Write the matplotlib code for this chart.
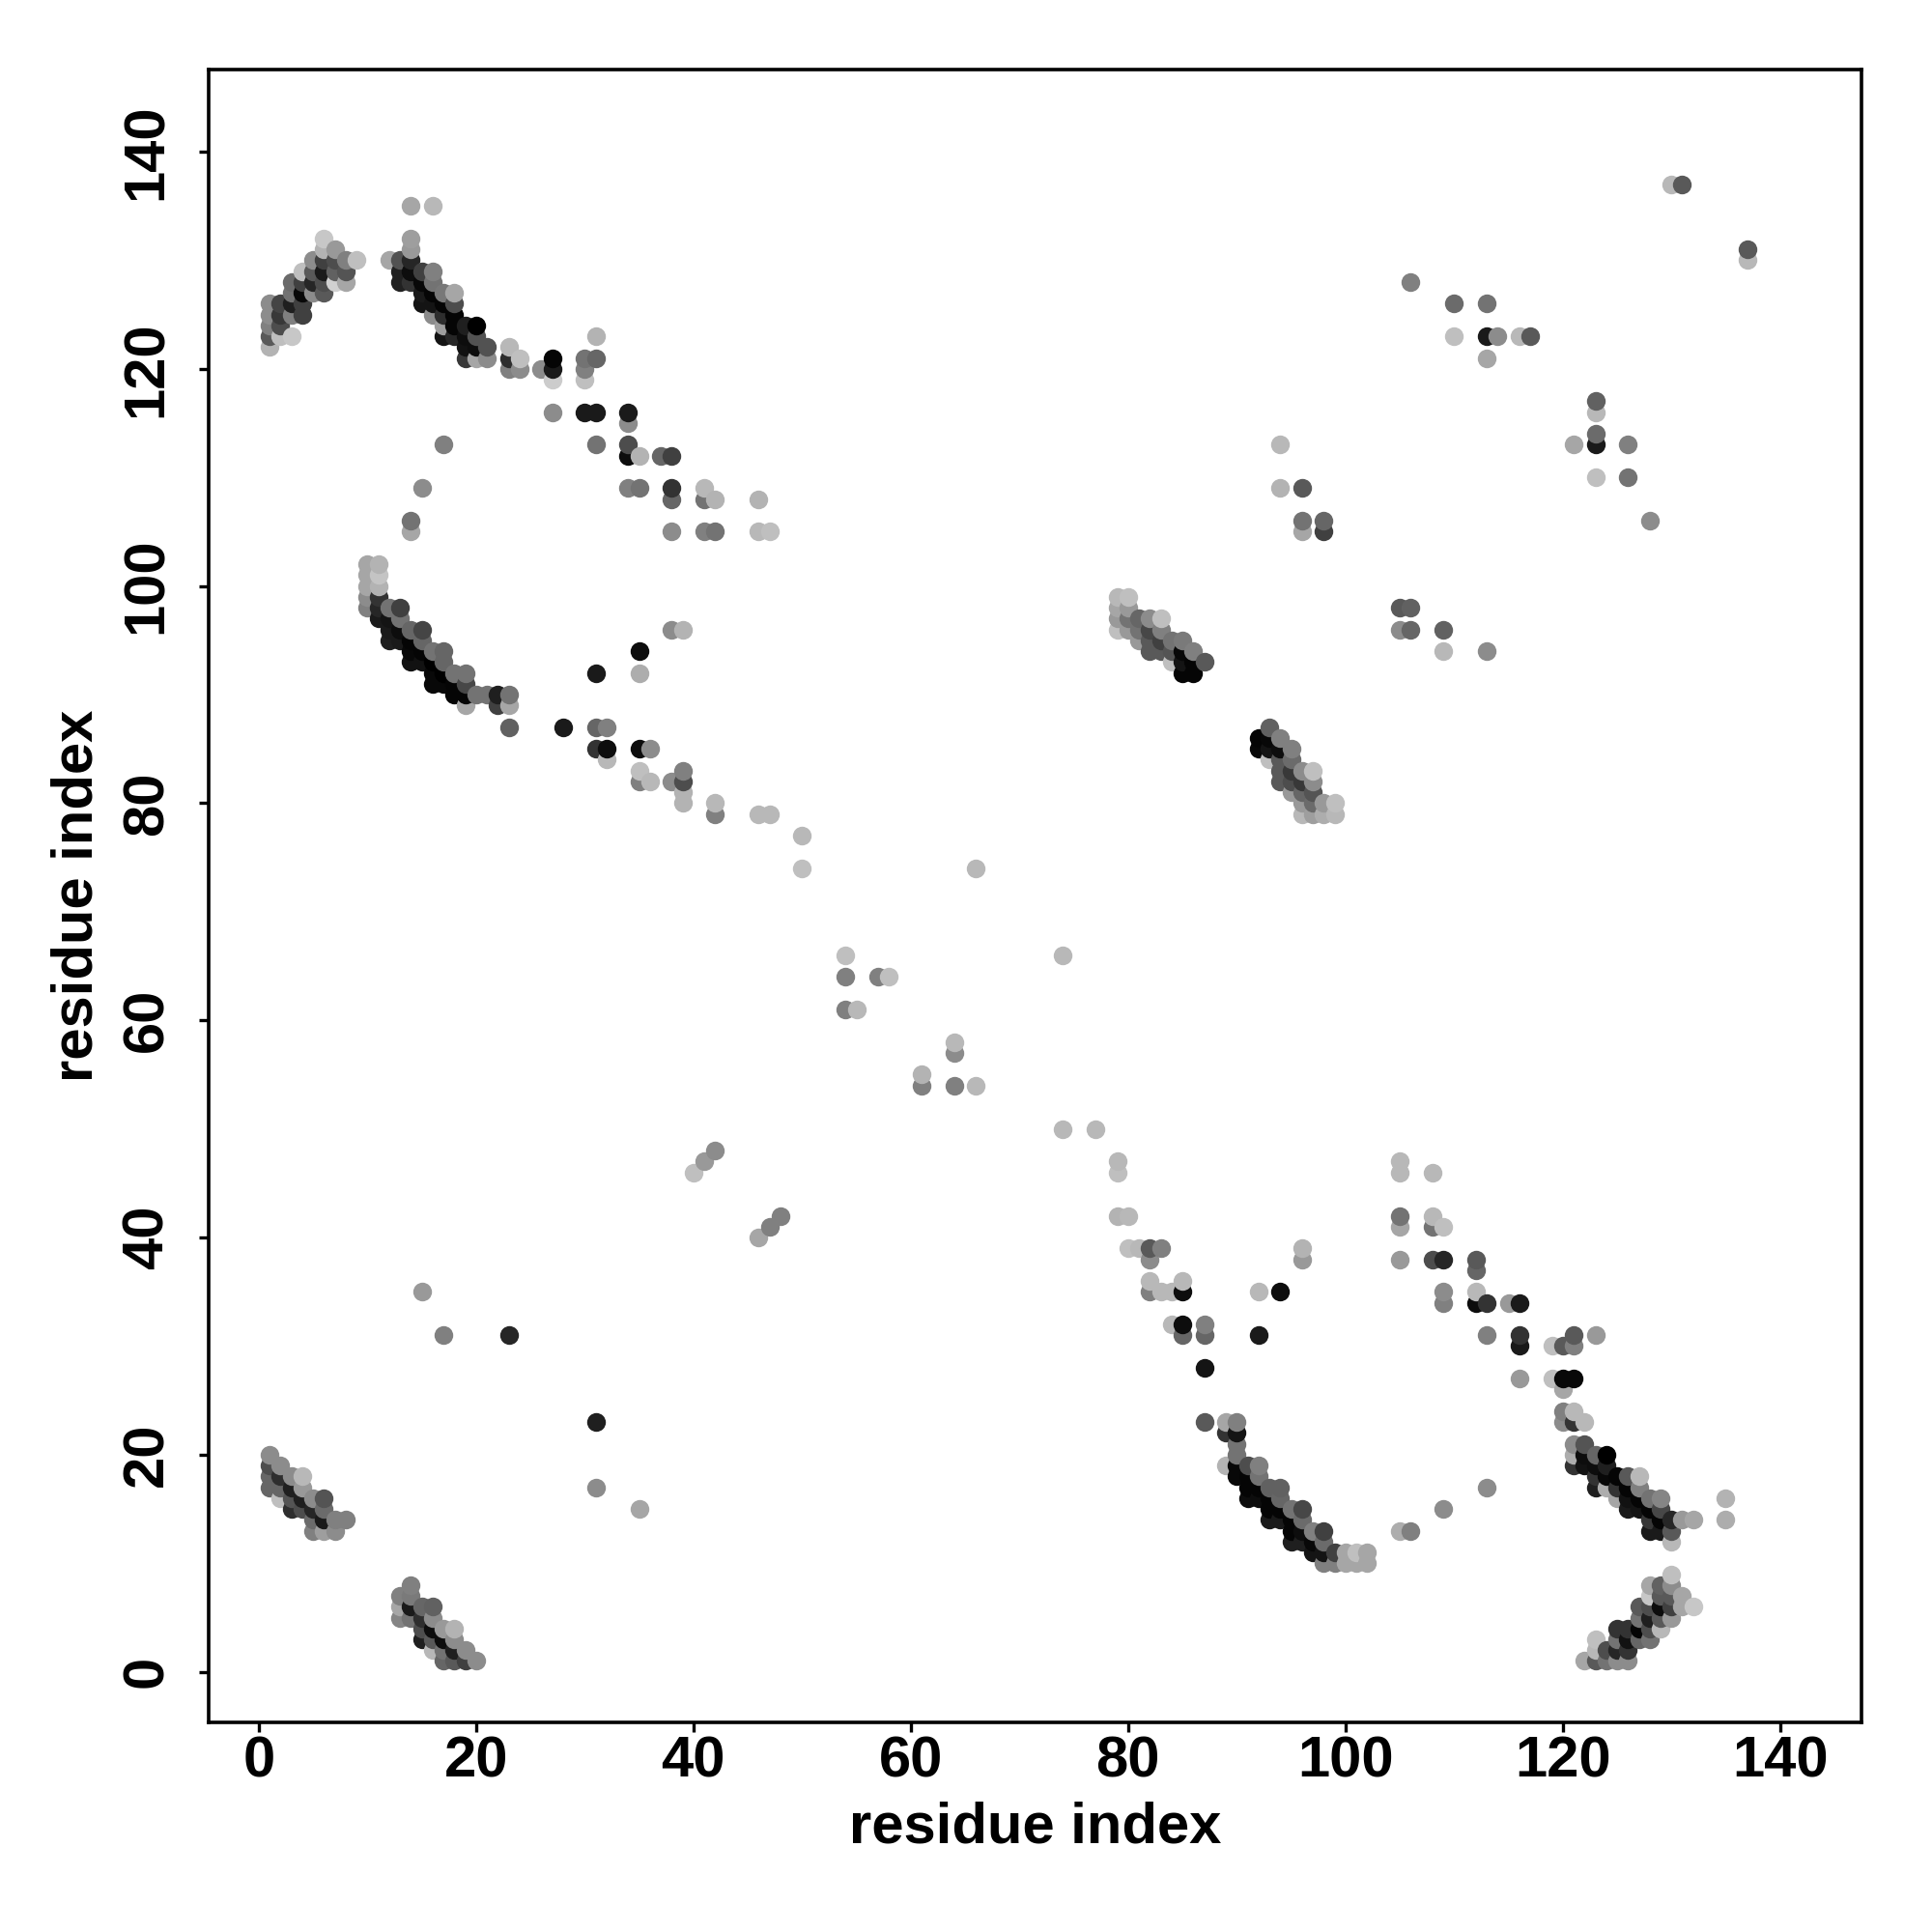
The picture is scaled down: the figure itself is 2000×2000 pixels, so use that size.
import numpy as np
import matplotlib
matplotlib.use("Agg")
import matplotlib.pyplot as plt

plt.rcParams['font.family'] = ['Liberation Sans', 'DejaVu Sans']
plt.rcParams['font.weight'] = 'bold'

# one line per column: residue i, then residue j and grey level of each contact
columns_upper_left = [
    (1, [122, 123, 124, 125, 126], [.7, .35, .5, .55, .55]),
    (2, [123, 124, 125, 126], [.75, .3, .22, .27]),
    (3, [123, 125, 126, 127, 128], [.78, .5, .12, .45, .42]),
    (4, [125, 126, 127, 128, 129], [.25, .25, .03, .25, .75]),
    (5, [127, 128, 129, 130], [.55, .15, .35, .55]),
    (6, [127, 128, 129, 130, 131, 132], [.35, .3, .1, .25, .7, .78]),
    (7, [128, 129, 130, 131], [.82, .38, .3, .6]),
    (8, [128, 129, 130], [.65, .33, .5]),
    (9, [130], [.75]),
    (12, [130], [.65]),
    (13, [128, 129, 130], [.13, .13, .32]),
    (14, [105, 106, 128, 129, 130, 131, 132, 135], [.65, .45, .2, .05, .15, .6, .62, .65]),
    (15, [109, 126, 127, 128, 129], [.55, .08, .1, .03, .25]),
    (16, [125, 126, 127, 128, 129, 135], [.55, .08, .02, .45, .5, .72]),
    (17, [113, 123, 124, 125, 126, 127], [.5, .08, .62, .18, .02, .47]),
    (18, [123, 124, 125, 126, 127], [.15, .02, .02, .3, .65]),
    (19, [121, 122, 123, 124], [.22, .07, .05, .12]),
    (20, [121, 122, 123, 124], [.65, .05, .32, .0]),
    (21, [121, 122], [.55, .32]),
    (23, [120, 121, 122], [.5, .18, .72]),
    (24, [120, 121], [.55, .75]),
    (26, [120], [.55]),
    (27, [116, 119, 120, 121], [.55, .8, .1, .02]),
    (30, [116, 119, 120, 121], [.1, .75, .5, .45]),
    (31, [113, 116, 121, 123], [.45, .1, .4, .7]),
    (34, [109, 112, 113, 115, 116], [.5, .05, .3, .55, .1]),
    (35, [109, 112], [.45, .7]),
    (37, [112], [.4]),
    (38, [105, 108, 109, 112], [.55, .4, .2, .25]),
    (41, [105, 108, 109], [.5, .45, .72]),
    (42, [105, 108], [.45, .7]),
    (46, [105, 108], [.72, .7]),
    (47, [105], [.75]),
]

columns_mid_left = [
    (10, [98, 99, 100, 101, 102], [.5, .55, .65, .65, .65]),
    (11, [97, 98, 99, 100, 101, 102], [.1, .15, .2, .7, .77, .7]),
    (12, [95, 96, 97, 98], [.12, .1, .08, .45]),
    (13, [95, 96, 97, 98], [.1, .05, .45, .25]),
    (14, [93, 94, 95, 96], [.07, .03, .02, .4]),
    (15, [93, 94, 95, 96], [.07, .02, .4, .27]),
    (16, [91, 92, 93, 94], [.03, .03, .0, .45]),
    (17, [91, 92, 93, 94], [.03, .0, .4, .4]),
    (18, [90, 91, 92], [.02, .02, .45]),
    (19, [89, 90, 91, 92], [.65, .02, .28, .45]),
    (20, [90], [.45]),
    (21, [90], [.45]),
    (22, [89, 90], [.25, .12]),
    (23, [87, 89, 90], [.38, .65, .45]),
    (28, [87], [.1]),
    (31, [85, 87, 92], [.2, .4, .1]),
    (32, [84, 85, 87], [.72, .05, .5]),
    (35, [82, 83, 85, 92, 94], [.5, .75, .05, .68, .05]),
    (36, [82, 85], [.72, .55]),
    (38, [82, 96], [.55, .55]),
    (39, [80, 81, 82, 83, 96], [.7, .7, .3, .5, .7]),
    (42, [79, 80], [.5, .72]),
    (46, [79], [.72]),
    (47, [79], [.72]),
    (50, [74, 77], [.75, .72]),
]

columns_centre = [
    (40, [46], [.75]),
    (41, [47], [.6]),
    (42, [48], [.55]),
    (46, [40], [.65]),
    (47, [41], [.5]),
    (48, [42], [.5]),
    (54, [61, 64, 66], [.5, .5, .75]),
    (55, [61], [.72]),
    (57, [64], [.5]),
    (58, [64], [.75]),
    (61, [54, 55], [.5, .7]),
    (64, [54, 57, 58], [.5, .55, .72]),
    (66, [54, 74], [.72, .72]),
    (74, [50, 66], [.72, .72]),
    (77, [50], [.72]),
]

columns_upper_right = [
    (79, [96, 97, 98, 99], [.75, .6, .65, .72]),
    (80, [96, 97, 98, 99], [.6, .45, .6, .75]),
    (81, [95, 96, 97], [.6, .45, .4]),
    (82, [94, 95, 96, 97], [.35, .35, .28, .55]),
    (83, [94, 95, 96, 97], [.35, .25, .5, .75]),
    (84, [93, 94, 95], [.75, .33, .45]),
    (85, [92, 93, 94, 95], [.02, .08, .03, .48]),
    (86, [92, 93, 94], [.02, .02, .5]),
    (87, [93], [.35]),
    (92, [85, 86], [.03, .02]),
    (93, [84, 85, 86, 87], [.75, .08, .03, .38]),
    (94, [82, 83, 84, 85, 86, 109, 113], [.35, .35, .35, .05, .5, .7, .72]),
    (95, [81, 82, 83, 84, 85], [.6, .3, .22, .42, .5]),
    (96, [79, 80, 81, 82, 83, 105, 106, 109], [.72, .6, .4, .22, .55, .65, .45, .35]),
    (97, [79, 80, 81, 82, 83], [.62, .42, .33, .55, .75]),
    (98, [79, 80, 105, 106], [.68, .6, .25, .4]),
    (99, [79, 80], [.72, .75]),
    (105, [96, 98], [.55, .35]),
    (106, [96, 98, 128], [.4, .38, .5]),
    (109, [94, 96], [.72, .38]),
    (110, [123, 126], [.75, .42]),
    (113, [94, 121, 123, 126], [.55, .65, .1, .45]),
    (114, [123], [.55]),
    (116, [123], [.72]),
    (117, [123], [.35]),
    (121, [113], [.65]),
    (123, [110, 113, 114, 116, 117], [.75, .1, .42, .72, .38]),
    (126, [110, 113], [.45, .5]),
    (128, [106], [.55]),
    (130, [137], [.72]),
    (131, [137], [.35]),
    (137, [130, 131], [.72, .35]),
]

columns_lower_left = [
    (1, [17, 18, 19, 20], [.4, .4, .3, .55]),
    (2, [16, 17, 18, 19], [.75, .4, .18, .55]),
    (3, [15, 16, 17, 18], [.18, .33, .12, .55]),
    (4, [15, 16, 17, 18], [.3, .12, .6, .72]),
    (5, [13, 14, 15, 16], [.5, .42, .15, .55]),
    (6, [13, 14, 15, 16], [.62, .1, .42, .33]),
    (7, [13, 14], [.55, .5]),
    (8, [14], [.5]),
    (13, [5, 6, 7], [.52, .65, .5]),
    (14, [5, 6, 7, 8], [.45, .1, .48, .5]),
    (15, [3, 4, 5, 6, 35], [.12, .3, .18, .4, .6]),
    (16, [2, 3, 4, 5, 6], [.72, .35, .05, .55, .38]),
    (17, [1, 2, 3, 4, 31], [.4, .45, .05, .6, .5]),
    (18, [1, 2, 3, 4], [.35, .12, .55, .7]),
    (19, [1, 2], [.25, .55]),
    (20, [1], [.55]),
    (23, [31], [.15]),
    (31, [17, 23], [.55, .12]),
    (35, [15], [.65]),
]

columns_lower_right = [
    (79, [42, 46, 47], [.7, .75, .72]),
    (80, [39, 42], [.75, .72]),
    (81, [39], [.72]),
    (82, [35, 36, 38, 39], [.5, .72, .55, .35]),
    (83, [35, 39], [.72, .5]),
    (84, [32, 35], [.72, .72]),
    (85, [31, 32, 35, 36], [.4, .05, .05, .72]),
    (87, [23, 28, 31, 32], [.35, .08, .4, .5]),
    (89, [19, 22, 23], [.7, .2, .65]),
    (90, [18, 19, 20, 21, 22, 23], [.03, .03, .45, .45, .08, .5]),
    (91, [16, 17, 18, 19], [.05, .02, .02, .3]),
    (92, [16, 17, 18, 19, 31, 35], [.05, .02, .45, .5, .1, .72]),
    (93, [14, 15, 16, 17], [.1, .02, .02, .38]),
    (94, [14, 15, 16, 17, 35], [.1, .02, .4, .38, .05]),
    (95, [12, 13, 14, 15], [.12, .02, .02, .45]),
    (96, [12, 13, 14, 15, 38, 39], [.12, .05, .42, .28, .6, .7]),
    (97, [11, 12, 13], [.08, .03, .5]),
    (98, [10, 11, 12, 13], [.5, .08, .42, .25]),
    (99, [10, 11], [.5, .25]),
    (100, [10, 11], [.65, .65]),
    (101, [10, 11], [.65, .75]),
    (102, [10, 11], [.65, .65]),
    (105, [13, 38, 41, 42, 46, 47], [.68, .6, .65, .45, .72, .72]),
    (106, [13], [.5]),
    (108, [38, 41, 42, 46], [.3, .45, .72, .72]),
    (109, [15, 34, 35, 38, 41], [.55, .5, .55, .15, .75]),
    (112, [34, 35, 37, 38], [.05, .72, .4, .35]),
    (113, [17, 31, 34], [.55, .5, .2]),
    (115, [34], [.6]),
    (116, [27, 30, 31, 34], [.6, .1, .2, .1]),
    (119, [27, 30], [.75, .75]),
    (120, [23, 24, 26, 27, 30], [.55, .5, .65, .03, .35]),
    (121, [19, 20, 21, 23, 24, 27, 30, 31], [.2, .68, .55, .2, .72, .03, .5, .35]),
    (122, [1, 19, 20, 21, 23], [.65, .07, .05, .33, .72]),
    (123, [1, 2, 3, 17, 18, 19, 20, 31], [.35, .72, .75, .12, .2, .05, .4, .6]),
    (124, [1, 2, 17, 18, 19, 20], [.45, .3, .68, .03, .12, .0]),
    (125, [1, 2, 3, 4, 16, 17, 18], [.55, .15, .45, .2, .65, .2, .02]),
    (126, [1, 2, 3, 4, 15, 16, 17, 18], [.55, .2, .07, .2, .1, .07, .02, .35]),
    (127, [3, 4, 5, 6, 15, 16, 17, 18], [.4, .02, .45, .35, .08, .02, .5, .72]),
    (128, [3, 4, 5, 6, 7, 8, 13, 14, 15, 16], [.45, .3, .12, .3, .78, .65, .1, .22, .02, .45]),
    (129, [4, 5, 6, 7, 8, 13, 14, 15, 16], [.72, .35, .05, .35, .38, .1, .02, .28, .52]),
    (130, [5, 6, 7, 8, 9, 12, 13, 14], [.6, .25, .35, .55, .75, .72, .35, .15]),
    (131, [6, 7, 14], [.65, .65, .6]),
    (132, [6, 14], [.78, .65]),
    (135, [14, 16], [.68, .7]),
]

tick_values = [0, 20, 40, 60, 80, 100, 120, 140]


def flatten(*groups):
    x, y, g = [], [], []
    for group in groups:
        for col, rows, greys in group:
            x += [col] * len(rows)
            y += rows
            g += greys
    return np.array(x), np.array(y), np.array(g)


x, y, g = flatten(columns_upper_left, columns_mid_left, columns_centre,
                  columns_upper_right, columns_lower_left, columns_lower_right)

# drawn column by column, bottom to top
order = np.lexsort((y, x))
x, y, g = x[order], y[order], g[order]

fig = plt.figure(figsize=(20, 20), dpi=100)
ax = fig.add_axes([215.6 / 2000, 1 - 1783 / 2000, 1711.5 / 2000, 1711.5 / 2000])

for xi, yi, gi in zip(x, y, g):
    ax.scatter(xi, yi, s=195, color=str(gi), linewidths=0, zorder=3)

ax.set_xlim(-4.65, 147.5)
ax.set_ylim(-4.65, 147.6)
ax.set_xticks(tick_values)
ax.set_yticks(tick_values)
ax.tick_params(axis='both', length=7, width=2.4, labelsize=43, pad=3)
ax.tick_params(axis='y', pad=18.5)
for lab in ax.get_yticklabels():
    lab.set_rotation(90)
    lab.set_va('center')
for spine in ax.spines.values():
    spine.set_linewidth(2.6)

ax.set_xlabel("residue index", fontsize=43, fontweight='bold', labelpad=9)
ax.set_ylabel("residue index", fontsize=43, fontweight='bold', labelpad=13)

plt.savefig("out.png", dpi=100)
